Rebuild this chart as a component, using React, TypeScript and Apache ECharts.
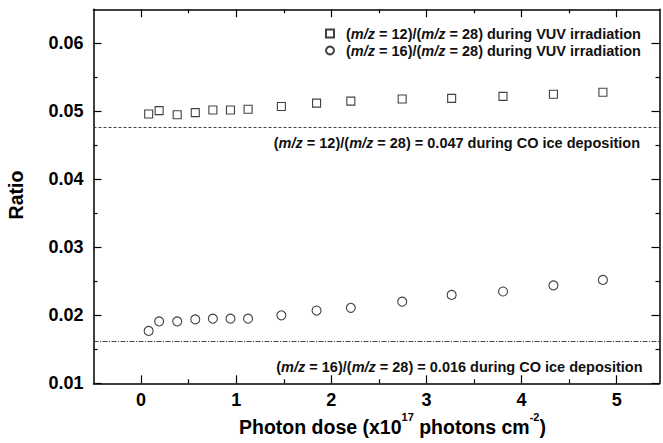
import React, { useEffect, useRef } from "react";
import * as echarts from "echarts";

// Photon dose (x10^17 photons cm^-2)
const photonDose = [0.08, 0.19, 0.38, 0.57, 0.755, 0.94, 1.125, 1.475, 1.845, 2.205, 2.745, 3.265, 3.805, 4.335, 4.855];
// (m/z = 12)/(m/z = 28) during VUV irradiation
const ratio12 = [0.0496, 0.0501, 0.0495, 0.0498, 0.0502, 0.0502, 0.0503, 0.0507, 0.0512, 0.0515, 0.0518, 0.0519, 0.0522, 0.0525, 0.0528];
// (m/z = 16)/(m/z = 28) during VUV irradiation
const ratio16 = [0.0177, 0.0191, 0.0191, 0.0194, 0.0195, 0.0195, 0.0195, 0.0200, 0.0207, 0.0211, 0.0220, 0.0230, 0.0235, 0.0244, 0.0252];

// reference levels during CO ice deposition
const deposition12 = 0.0477;
const deposition16 = 0.0162;
const deposition12Label = "0.047";
const deposition16Label = "0.016";

const xMajorTicks = [0, 1, 2, 3, 4, 5];
const xMinorTicks = [0.5, 1.5, 2.5, 3.5, 4.5];
const yMajorTicks = [0.01, 0.02, 0.03, 0.04, 0.05, 0.06];
const yMinorTicks = [0.015, 0.025, 0.035, 0.045, 0.055];

const seriesNames = [
  "(m/z = 12)/(m/z = 28) during VUV irradiation",
  "(m/z = 16)/(m/z = 28) during VUV irradiation",
];

const FONT = "'Liberation Sans', Arial, Helvetica, sans-serif";
const INK = "#111";
const SMALL = 14.5;

const italicize = (s: string) => s.replace(/m\/z/g, "{i|m/z}");

export default function App() {
  const ref = useRef<HTMLDivElement>(null);
  useEffect(() => {
    if (!ref.current) return;
    const chart = echarts.init(ref.current, undefined, { renderer: "svg" });
    const X_MIN = -0.5;
    const X_MAX = 5.45;
    const Y_MIN = 0.01;
    const Y_MAX = 0.065;
    const axisLine = { show: true, onZero: false, lineStyle: { color: "#000", width: 1.5 } };
    const noLine = { show: false, onZero: false };
    const tickStyle = { color: "#000", width: 1.2 };
    const baseX = {
      type: "value",
      min: X_MIN,
      max: X_MAX,
      splitLine: { show: false },
    } as any;
    const baseY = {
      type: "value",
      min: Y_MIN,
      max: Y_MAX,
      splitLine: { show: false },
    } as any;
    const richText = {
      i: { fontStyle: "italic", fontWeight: "bold", fontSize: SMALL, fontFamily: FONT, color: INK },
    };
    const option: any = {
      animation: false,
      backgroundColor: "#fff",
      textStyle: { fontFamily: FONT },
      grid: { left: 93.5, right: 3.5, top: 9.3, bottom: 59.7 },
      xAxis: [
        {
          ...baseX,
          position: "bottom",
          axisLine,
          axisTick: { show: true, inside: true, length: 8, lineStyle: tickStyle, customValues: xMajorTicks },
          axisLabel: {
            show: true,
            customValues: xMajorTicks,
            margin: 8,
            color: "#000",
            fontWeight: "bold",
            fontSize: 18,
            fontFamily: FONT,
            formatter: (v: number) => String(v),
          },
        },
        {
          ...baseX,
          position: "bottom",
          axisLine: noLine,
          axisTick: { show: true, inside: true, length: 4, lineStyle: tickStyle, customValues: xMinorTicks },
          axisLabel: { show: false },
        },
        {
          ...baseX,
          position: "top",
          axisLine,
          axisTick: { show: true, inside: true, length: 8, lineStyle: tickStyle, customValues: xMajorTicks },
          axisLabel: { show: false },
        },
        {
          ...baseX,
          position: "top",
          axisLine: noLine,
          axisTick: { show: true, inside: true, length: 4, lineStyle: tickStyle, customValues: xMinorTicks },
          axisLabel: { show: false },
        },
      ],
      yAxis: [
        {
          ...baseY,
          position: "left",
          axisLine,
          axisTick: { show: true, inside: true, length: 8, lineStyle: tickStyle, customValues: yMajorTicks },
          axisLabel: {
            show: true,
            customValues: yMajorTicks,
            margin: 10,
            color: "#000",
            fontWeight: "bold",
            fontSize: 18,
            fontFamily: FONT,
            formatter: (v: number) => v.toFixed(2),
          },
        },
        {
          ...baseY,
          position: "left",
          axisLine: noLine,
          axisTick: { show: true, inside: true, length: 4, lineStyle: tickStyle, customValues: yMinorTicks },
          axisLabel: { show: false },
        },
        {
          ...baseY,
          position: "right",
          axisLine,
          axisTick: { show: true, inside: true, length: 8, lineStyle: tickStyle, customValues: yMajorTicks },
          axisLabel: { show: false },
        },
        {
          ...baseY,
          position: "right",
          axisLine: noLine,
          axisTick: { show: true, inside: true, length: 4, lineStyle: tickStyle, customValues: yMinorTicks },
          axisLabel: { show: false },
        },
      ],
      legend: {
        orient: "vertical",
        left: 320,
        top: 21,
        itemWidth: 8,
        itemHeight: 8,
        itemGap: 2,
        data: [
          { name: seriesNames[0], icon: "rect" },
          { name: seriesNames[1], icon: "circle" },
        ],
        formatter: (name: string) => italicize(name),
        textStyle: {
          fontFamily: FONT,
          fontSize: SMALL,
          fontWeight: "bold",
          color: INK,
          lineHeight: 15,
          padding: [0, 0, 0, 7],
          rich: richText,
        },
        selectedMode: false,
      },
      series: [
        {
          name: seriesNames[0],
          type: "scatter",
          xAxisIndex: 0,
          yAxisIndex: 0,
          symbol: "rect",
          symbolSize: 8,
          itemStyle: { color: "rgba(255,255,255,0)", borderColor: INK, borderWidth: 1.1 },
          data: photonDose.map((x, i) => [x, ratio12[i]]),
          markLine: {
            silent: true,
            symbol: "none",
            precision: 5,
            label: { show: false },
            lineStyle: { color: "#444", width: 1, type: [3, 2] },
            data: [{ yAxis: deposition12 }],
          },
        },
        {
          name: seriesNames[1],
          type: "scatter",
          xAxisIndex: 0,
          yAxisIndex: 0,
          symbol: "circle",
          symbolSize: 9,
          itemStyle: { color: "rgba(255,255,255,0)", borderColor: INK, borderWidth: 1.1 },
          data: photonDose.map((x, i) => [x, ratio16[i]]),
          markLine: {
            silent: true,
            symbol: "none",
            precision: 5,
            label: { show: false },
            lineStyle: { color: "#444", width: 1, type: [5, 1.5, 1, 1.5] },
            data: [{ yAxis: deposition16 }],
          },
        },
      ],
      graphic: [
        {
          type: "text",
          x: 640,
          y: 142.7,
          style: {
            text: `({i|m/z} = 12)/({i|m/z} = 28) = ${deposition12Label} during CO ice deposition`,
            align: "right",
            verticalAlign: "middle",
            font: `bold ${SMALL}px ${FONT}`,
            fill: INK,
            rich: richText,
          },
        },
        {
          type: "text",
          x: 642.5,
          y: 367.3,
          style: {
            text: `({i|m/z} = 16)/({i|m/z} = 28) = ${deposition16Label} during CO ice deposition`,
            align: "right",
            verticalAlign: "middle",
            font: `bold ${SMALL}px ${FONT}`,
            fill: INK,
            rich: richText,
          },
        },
        {
          type: "text",
          x: 15.5,
          y: 195,
          rotation: Math.PI / 2,
          style: {
            text: "Ratio",
            align: "center",
            verticalAlign: "middle",
            font: `bold 19.5px ${FONT}`,
            fill: "#000",
          },
        },
        {
          type: "text",
          x: 239,
          y: 427,
          style: {
            text: "Photon dose (x10{sup|17} photons cm{sup|-2})",
            align: "left",
            verticalAlign: "middle",
            font: `bold 19.5px ${FONT}`,
            fill: "#000",
            rich: {
              sup: { fontSize: 11, fontWeight: "bold", fontFamily: FONT, padding: [0, 0, 20, 0], fill: "#000" },
            },
          },
        },
      ],
    };
    chart.setOption(option);
    return () => chart.dispose();
  }, []);
  return <div ref={ref} style={{ width: 663, height: 443, position: "fixed", left: 0, top: 0 }} />;
}
